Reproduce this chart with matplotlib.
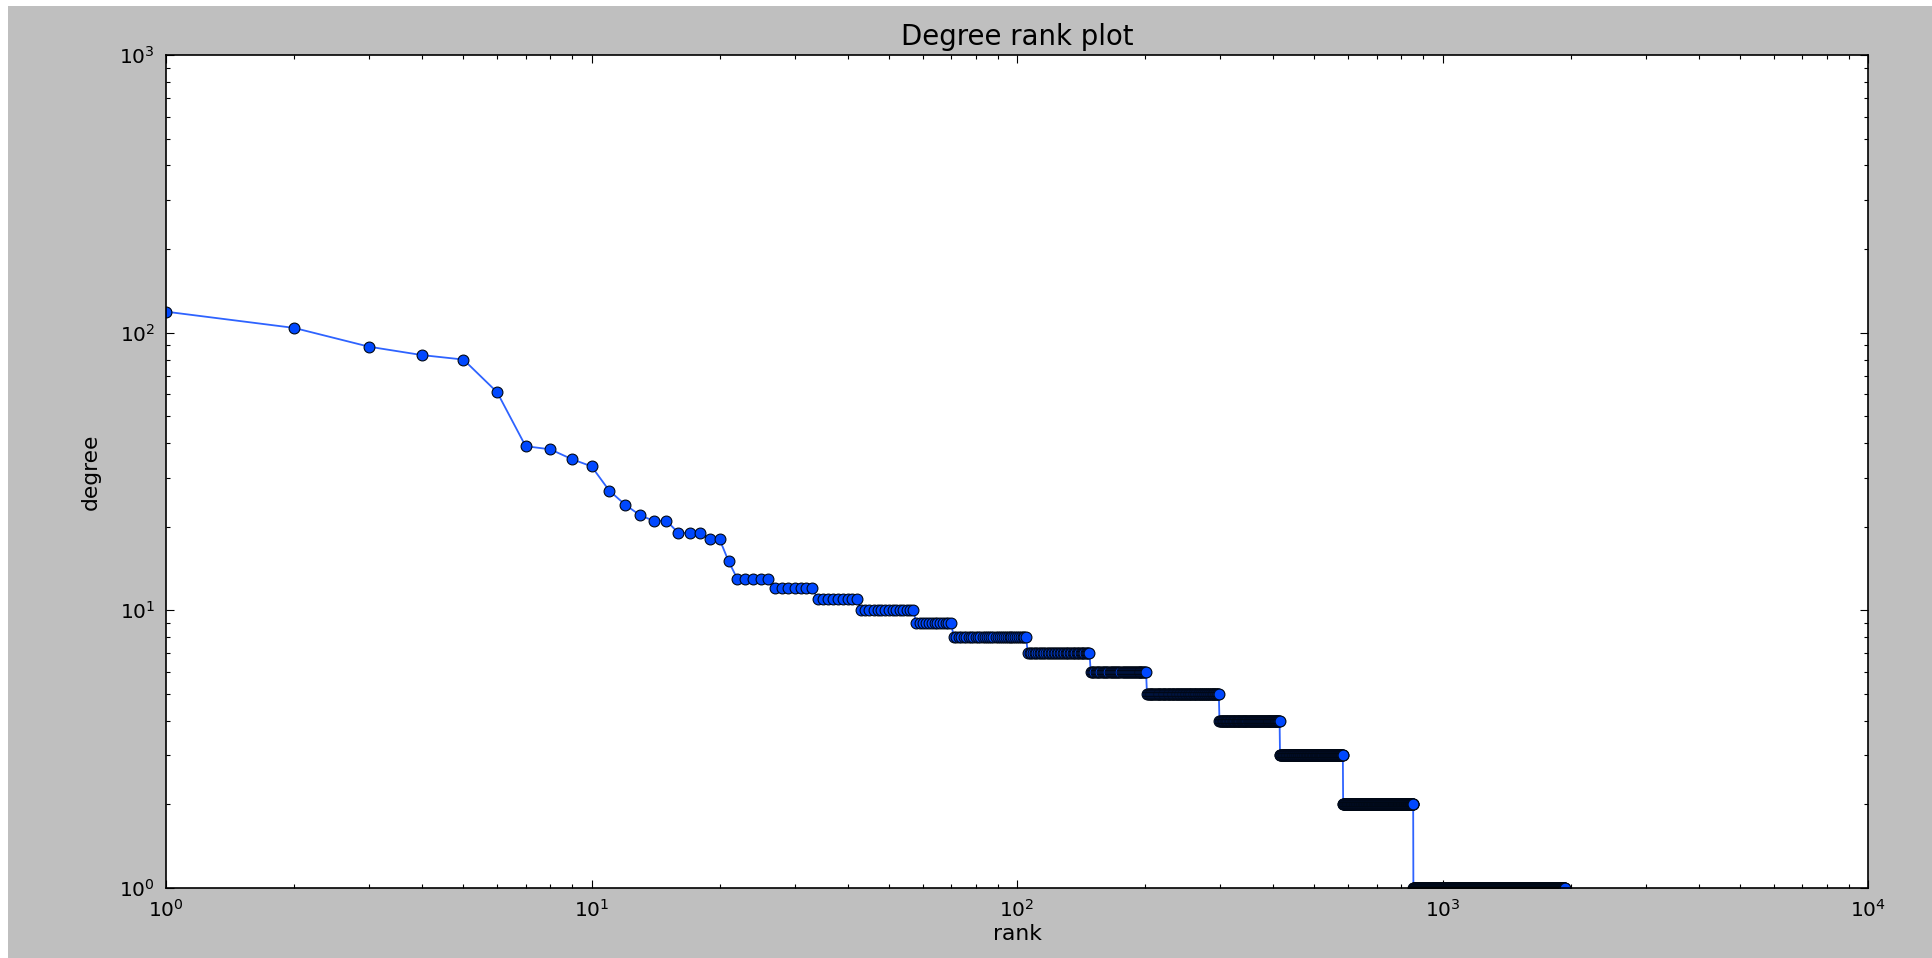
import numpy as np
import matplotlib
matplotlib.use('Agg')
import matplotlib.pyplot as plt
from matplotlib.patches import Rectangle

# degrees of the top 21 ranked nodes, read one by one
top_degrees = [119, 104, 89, 83, 80, 61, 39, 38, 35, 33, 27,
               24, 22, 21, 21, 19, 19, 19, 18, 18, 15]
# after that the sequence is flat runs: degree value and how many nodes have it
run_degrees = [13, 12, 11, 10, 9, 8, 7, 6, 5, 4, 3, 2, 1]
run_counts = [5, 7, 9, 15, 13, 35, 43, 53, 97, 116, 169, 270, 1082]

degree_sequence = np.concatenate([top_degrees, np.repeat(run_degrees, run_counts)])
ranks = np.arange(1, len(degree_sequence) + 1)

plt.rcParams['font.family'] = 'DejaVu Sans'
plt.rcParams['font.size'] = 14.5

fig = plt.figure(figsize=(19.33, 9.58), dpi=100, facecolor='#bfbfbf')
ax = fig.add_axes([0.0859, 0.0731, 0.8805, 0.8695])

ax.loglog(ranks, degree_sequence, '-', color='#2e63ff', linewidth=1.3,
          marker='o', markersize=7.8, markerfacecolor='#0048ff',
          markeredgecolor='#000814', markeredgewidth=0.8)

ax.set_xlim(1, 1e4)
ax.set_ylim(1, 1e3)
ax.tick_params(which='both', direction='in', top=True, right=True, labelsize=14.5)
ax.tick_params(which='major', length=5.5, width=0.8, pad=8)
ax.tick_params(which='minor', length=2.8, width=0.8)
for s in ax.spines.values():
    s.set_linewidth(1.2)

ax.set_title('Degree rank plot', fontsize=19.8, pad=7)
ax.set_ylabel('degree', fontsize=15.7, labelpad=13)
ax.set_xlabel('rank', fontsize=15.7, labelpad=2)

# thin white border along the left and top of the screenshot
fig.patches.append(Rectangle((0, 0), 8 / 1933, 1, transform=fig.transFigure,
                             facecolor='white', edgecolor='none'))
fig.patches.append(Rectangle((0, 1 - 6 / 958), 1, 6 / 958, transform=fig.transFigure,
                             facecolor='white', edgecolor='none'))

fig.savefig('out.png', dpi=100, facecolor=fig.get_facecolor())
